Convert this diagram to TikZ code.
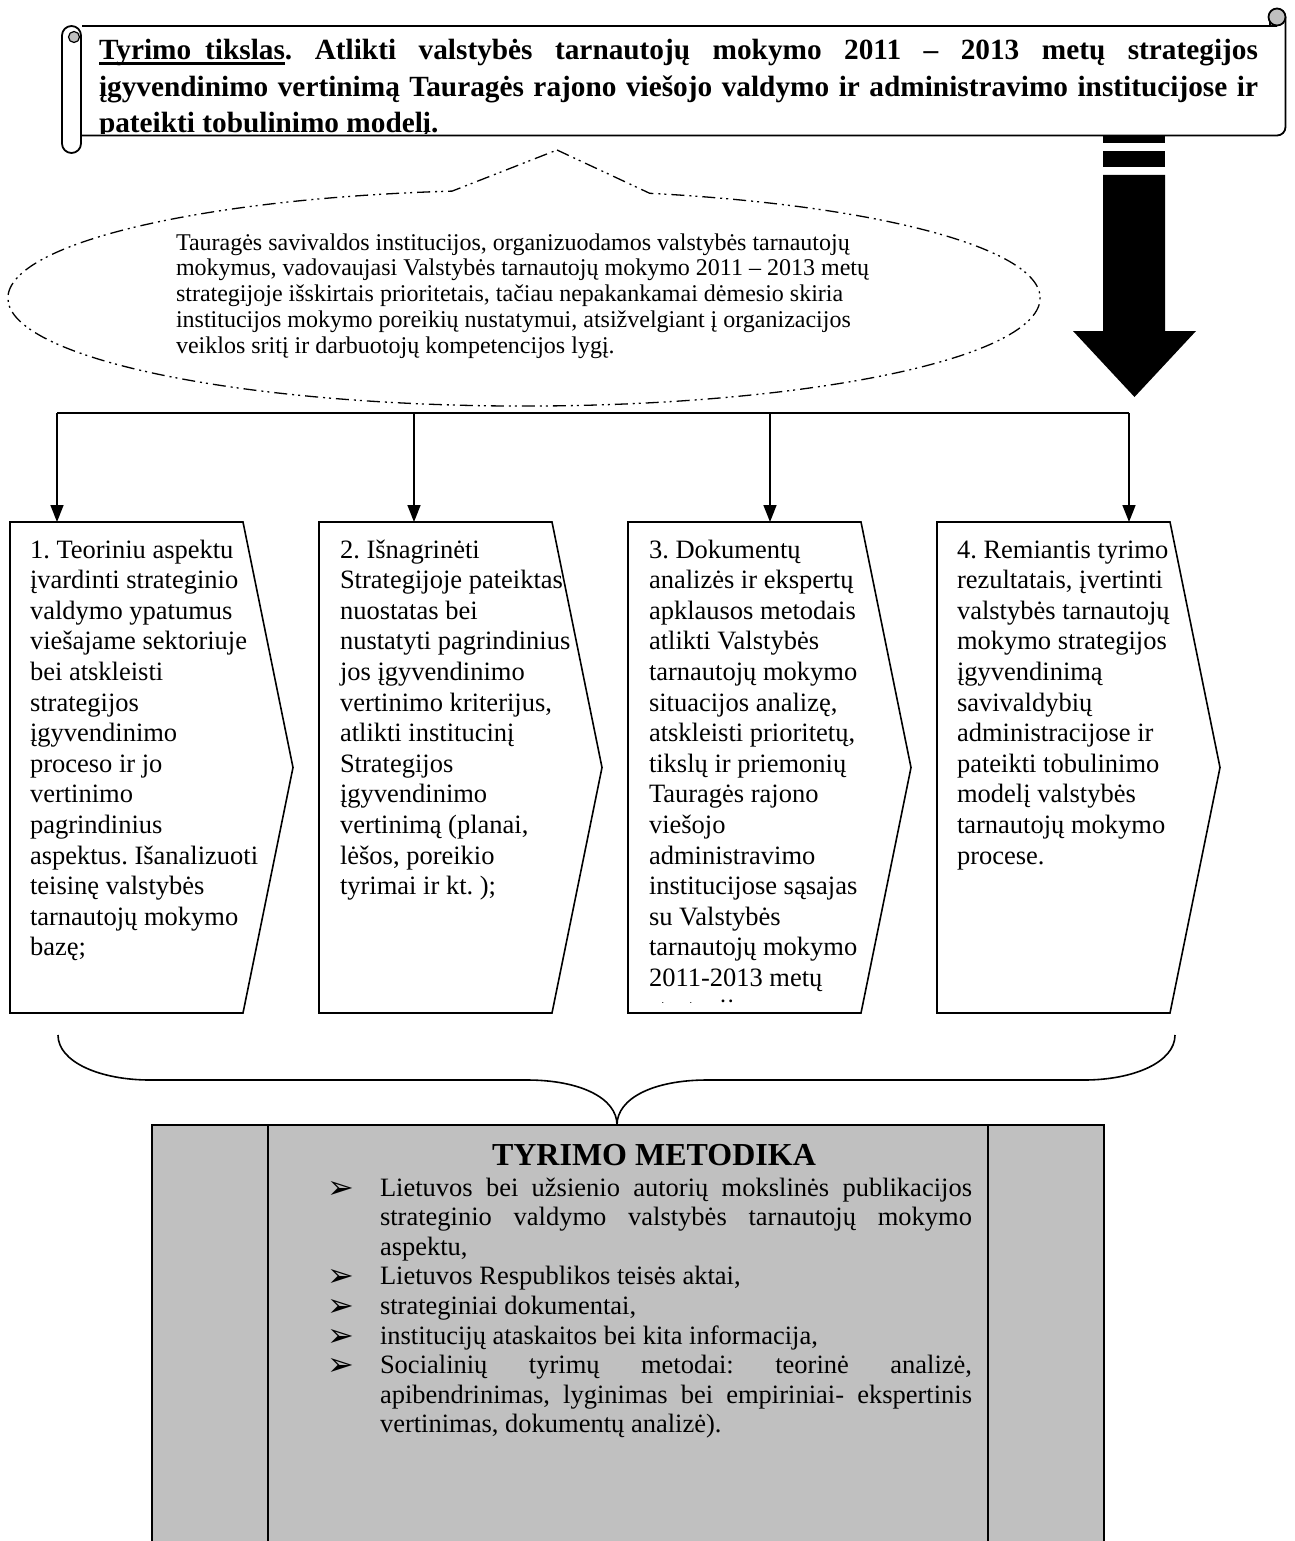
\documentclass[tikz,border=0pt]{standalone}
\usepackage{fontspec}
\setmainfont{Liberation Serif}
\newfontfamily\dingfont{DejaVu Sans}
\usetikzlibrary{arrows.meta,calc}
\definecolor{panelgray}{RGB}{192,192,192}
\frenchspacing
% thick underline under a phrase
\newcommand{\ulword}[1]{\leavevmode\setbox0\hbox{#1}\rlap{\rule[-5pt]{\wd0}{2.5pt}}\box0}
% one bullet of the method list, with a hanging indent
\newcommand{\methitem}{\par\hangindent=53pt\hangafter=1\noindent\makebox[53pt][l]{\raisebox{-2pt}{\dingfont\fontsize{32}{32}\selectfont ➢}}}
\newcommand{\boxfont}{\fontsize{26.5}{30.6}\selectfont\raggedright}

\begin{document}
\begin{tikzpicture}[x=1pt,y=-1pt,
  scrollline/.style={draw=black, line width=1.8pt},
  stepframe/.style={minimum width=233pt, minimum height=491pt, inner sep=0pt, outer sep=0pt, anchor=north west},
  stepshape/.style={draw=black, line width=1.6pt, line join=miter},
  feed/.style={line width=1.6pt, -{Triangle[length=17pt,width=13pt]}},
  callout/.style={line width=1.3pt, dash pattern=on 13pt off 5pt on 2pt off 4pt on 2pt off 5pt},
  textblock/.style={anchor=base west, inner sep=0pt, outer sep=0pt},
]
\useasboundingbox (0,0) rectangle (1294,1541);

% ---------- striped block arrow behind the scroll ----------
\fill (1103,135) rectangle (1165,143);
\fill (1103,151) rectangle (1165,167);
\fill (1103,175) -- (1165,175) -- (1165,331) -- (1196,331) -- (1134.5,397)
      -- (1073,331) -- (1103,331) -- cycle;
\coordinate (bigTip) at (1134.5,397);

% ---------- scroll with the research goal ----------
\fill[white] (70,26) rectangle (1285,135);
\draw[scrollline] (82,26) -- (1277,26);
\draw[scrollline] (1285.5,17) -- (1285.5,127) arc[start angle=0, end angle=-90, radius=8.5pt] -- (82,135.5);
\draw[scrollline, fill=panelgray] (1277,17) circle[radius=8.5pt];
\draw[line width=1.2pt] (1270,21) -- (1270,26);
\draw[scrollline, fill=white, rounded corners=9.5pt] (62,26) rectangle (81,153);
\draw[line width=1.2pt, fill=panelgray] (74,37) circle[radius=5.5pt];

\begin{scope}
  \clip (88,20) rectangle (1270,133.5);
  \node[textblock] (goal) at (99,60) {\parbox[t]{1159pt}{\fontsize{29.3}{36.5}\selectfont\bfseries
    \ulword{Tyrimo\hspace{14pt}tikslas}. Atlikti valstybės tarnautojų mokymo 2011 – 2013 metų strategijos\linebreak
    įgyvendinimo vertinimą Tauragės rajono viešojo valdymo ir administravimo institucijose ir\linebreak
    pateikti tobulinimo modelį.}};
\end{scope}

% ---------- callout with the problem statement ----------
\coordinate (noteTip) at (557,150);
\coordinate (noteR) at (649.7,193.3);
\draw[callout] (noteTip) -- (noteR)
   arc[start angle=75.9, end angle=-262, x radius=516pt, y radius=108pt] -- cycle;
\node[textblock] (note) at (176,250) {\parbox[t]{760pt}{\fontsize{24}{25.8}\selectfont\raggedright
  Tauragės savivaldos institucijos, organizuodamos valstybės tarnautojų\\
  mokymus, vadovaujasi Valstybės tarnautojų mokymo 2011 – 2013 metų\\
  strategijoje išskirtais prioritetais, tačiau nepakankamai dėmesio skiria\\
  institucijos mokymo poreikių nustatymui, atsižvelgiant į organizacijos\\
  veiklos sritį ir darbuotojų kompetencijos lygį.}};

% ---------- four task steps ----------
\foreach \n/\x in {1/10, 2/319, 3/628, 4/937}{
  \node[stepframe] (b\n) at (\x,522) {};
  \draw[stepshape] (b\n.north west) -- (b\n.north east) -- ($(b\n.east)+(50,0)$)
     -- (b\n.south east) -- (b\n.south west) -- cycle;
}

\node[textblock] (s1) at (30,558) {\parbox[t]{280pt}{\boxfont
  1. Teoriniu aspektu\\ įvardinti strateginio\\ valdymo ypatumus\\ viešajame sektoriuje\\
  bei atskleisti\\ strategijos\\ įgyvendinimo\\ proceso ir jo\\ vertinimo\\ pagrindinius\\
  aspektus. Išanalizuoti\\ teisinę valstybės\\ tarnautojų mokymo\\ bazę;}};
\node[textblock] (s2) at (340,558) {\parbox[t]{280pt}{\boxfont
  2. Išnagrinėti\\ Strategijoje pateiktas\\ nuostatas bei\\ nustatyti pagrindinius\\
  jos įgyvendinimo\\ vertinimo kriterijus,\\ atlikti institucinį\\ Strategijos\\
  įgyvendinimo\\ vertinimą (planai,\\ lėšos, poreikio\\ tyrimai ir kt. );}};
\begin{scope}
  \clip (630,524) rectangle (900,1002);
  \node[textblock] (s3) at (649,558) {\parbox[t]{280pt}{\boxfont
    3. Dokumentų\\ analizės ir ekspertų\\ apklausos metodais\\ atlikti Valstybės\\
    tarnautojų mokymo\\ situacijos analizę,\\ atskleisti prioritetų,\\ tikslų ir priemonių\\
    Tauragės rajono\\ viešojo\\ administravimo\\ institucijose sąsajas\\ su Valstybės\\
    tarnautojų mokymo\\ 2011-2013 metų\\ strategija.}};
\end{scope}
\node[textblock] (s4) at (957,558) {\parbox[t]{280pt}{\boxfont
  4. Remiantis tyrimo\\ rezultatais, įvertinti\\ valstybės tarnautojų\\ mokymo strategijos\\
  įgyvendinimą\\ savivaldybių\\ administracijose ir\\ pateikti tobulinimo\\
  modelį valstybės\\ tarnautojų mokymo\\ procese.}};

% ---------- distribution bus and arrows into the steps ----------
\coordinate (f1) at (57,413);
\coordinate (f2) at (414,413);
\coordinate (f3) at (770,413);
\coordinate (f4) at (1129,413);
\draw[line width=1.6pt] (f1) -- (f4);
\foreach \n in {1,2,3,4}{
  \draw[feed] (f\n) -- (f\n |- b\n.north);
}

% ---------- brace gathering the steps ----------
\coordinate (braceL) at (58,1035);
\coordinate (braceTip) at (617,1125);
\coordinate (braceR) at (1175,1035);
\draw[line width=1.6pt] (braceL) .. controls (58,1062) and (100,1080) .. (150,1080) -- (527,1080)
   .. controls (580,1080) and (617,1098) .. (braceTip)
   .. controls (617,1098) and (654,1080) .. (707,1080) -- (1084,1080)
   .. controls (1134,1080) and (1175,1062) .. (braceR);

% ---------- method panel ----------
\node[draw=black, line width=1.8pt, fill=panelgray, minimum width=952pt, minimum height=440pt,
      anchor=north west, inner sep=0pt, outer sep=0pt] (panel) at (152,1125) {};
\draw[line width=1.8pt] ($(panel.north west)+(116,0)$) -- ($(panel.south west)+(116,0)$);
\draw[line width=1.8pt] ($(panel.north east)+(-116,0)$) -- ($(panel.south east)+(-116,0)$);

\node[textblock] (methTitle) at (492,1165) {\fontsize{32}{36}\selectfont\bfseries TYRIMO METODIKA};
\node[textblock] (methList) at (327,1196) {\parbox[t]{645pt}{\fontsize{26.5}{29.6}\selectfont
  \methitem Lietuvos bei užsienio autorių mokslinės publikacijos\linebreak
    strateginio valdymo valstybės tarnautojų mokymo\linebreak aspektu,
  \methitem Lietuvos Respublikos teisės aktai,
  \methitem strateginiai dokumentai,
  \methitem institucijų ataskaitos bei kita informacija,
  \methitem Socialinių tyrimų metodai: teorinė analizė,\linebreak
    apibendrinimas, lyginimas bei empiriniai- ekspertinis\linebreak
    vertinimas, dokumentų analizė).\par}};
\end{tikzpicture}
\end{document}
